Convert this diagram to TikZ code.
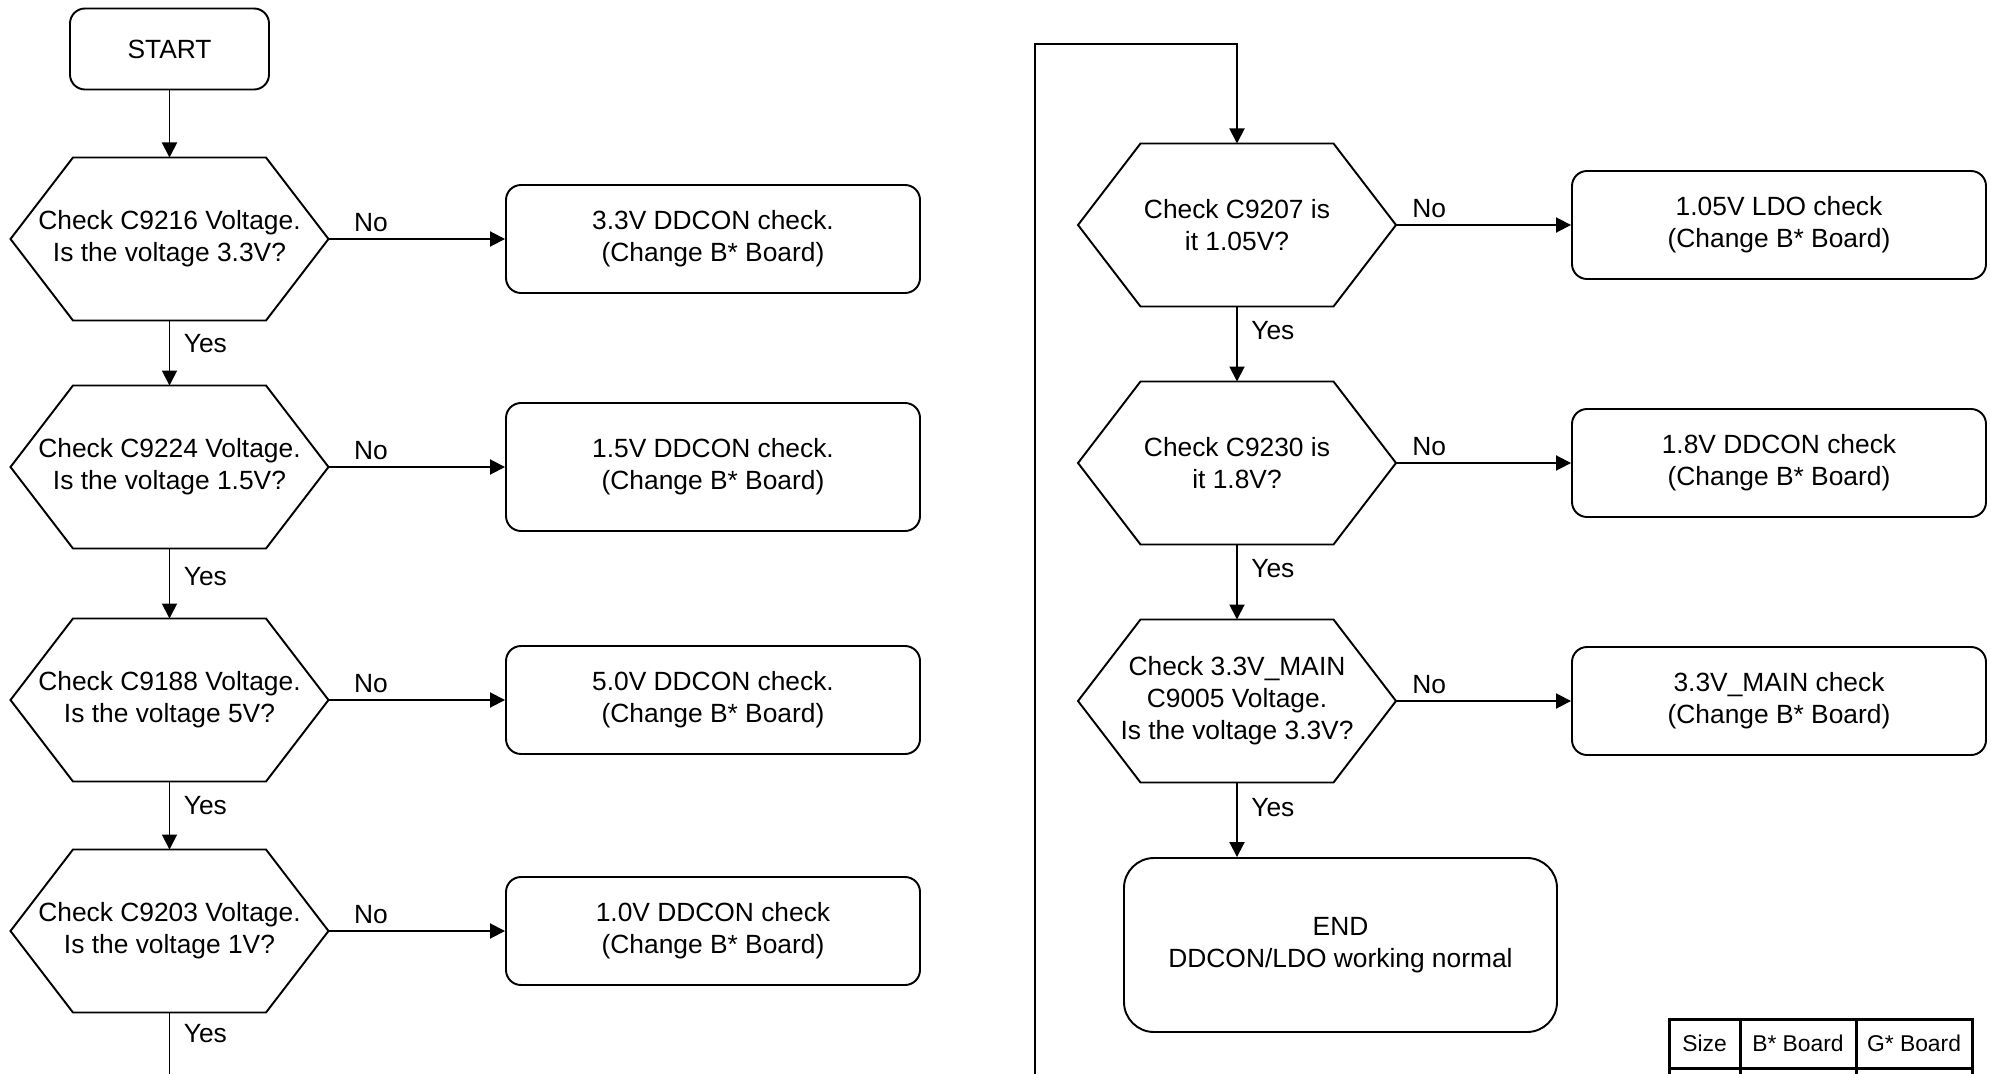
\documentclass[tikz,border=0pt]{standalone}
\usepackage{fontspec}
\setmainfont{Liberation Sans}
\usepackage{tikz}
\usetikzlibrary{arrows.meta}

\begin{document}
\begin{tikzpicture}[
  font=\fontsize{15}{18.2}\selectfont,
  line width=1.1pt,
  flow/.style={-{Triangle[length=0.3cm,width=0.3cm]}},
  termbox/.style={draw, rectangle, rounded corners=0.3cm, minimum width=3.98cm, minimum height=1.62cm},
  actbox/.style={draw, rectangle, rounded corners=0.3cm, minimum width=8.28cm, minimum height=2.16cm, align=center},
  hexnode/.style={rectangle, outer sep=0pt, minimum width=6.36cm, minimum height=3.26cm, align=center},
  nolbl/.style={above},
  yeslbl/.style={right, xshift=0.15cm},
  cell/.style={draw, rectangle, line width=1.7pt, minimum height=0.98cm, font=\fontsize{13}{15}\selectfont}
]
  \useasboundingbox (0,0) rectangle (39.82,-21.48);
  \clip (0,0) rectangle (39.82,-21.48);

  % Left column
  \node[termbox] (start) at (3.39,-0.98) {START};
  \node[hexnode] (h1) at (3.39,-4.78) {Check C9216 Voltage.\\Is the voltage 3.3V?};
  \node[hexnode] (h2) at (3.39,-9.34) {Check C9224 Voltage.\\Is the voltage 1.5V?};
  \node[hexnode] (h3) at (3.39,-14.00) {Check C9188 Voltage.\\Is the voltage 5V?};
  \node[hexnode] (h4) at (3.39,-18.62) {Check C9203 Voltage.\\Is the voltage 1V?};

  \node[actbox] (b1) at (14.26,-4.78) {3.3V DDCON check.\\(Change B* Board)};
  \node[actbox, minimum height=2.56cm] (b2) at (14.26,-9.34) {1.5V DDCON check.\\(Change B* Board)};
  \node[actbox] (b3) at (14.26,-14.00) {5.0V DDCON check.\\(Change B* Board)};
  \node[actbox] (b4) at (14.26,-18.62) {1.0V DDCON check\\(Change B* Board)};

  % Right column
  \node[hexnode] (h5) at (24.74,-4.50) {Check C9207 is\\it 1.05V?};
  \node[hexnode] (h6) at (24.74,-9.26) {Check C9230 is\\it 1.8V?};
  \node[hexnode] (h7) at (24.74,-14.02) {Check 3.3V\_MAIN\\C9005 Voltage.\\Is the voltage 3.3V?};

  \node[actbox] (b5) at (35.58,-4.50) {1.05V LDO check\\(Change B* Board)};
  \node[actbox] (b6) at (35.58,-9.26) {1.8V DDCON check\\(Change B* Board)};
  \node[actbox] (b7) at (35.58,-14.02) {3.3V\_MAIN check\\(Change B* Board)};

  \node[draw, rectangle, rounded corners=0.6cm, minimum width=8.66cm, minimum height=3.48cm, align=center] (endbox) at (26.81,-18.90) {END\\DDCON/LDO working normal};

  % Hexagon outlines
  \foreach \n in {h1,h2,h3,h4,h5,h6,h7}
    \draw (\n.west) -- ([xshift=1.25cm]\n.north west) -- ([xshift=-1.25cm]\n.north east)
      -- (\n.east) -- ([xshift=-1.25cm]\n.south east) -- ([xshift=1.25cm]\n.south west) -- cycle;

  % Yes branches
  \draw[flow] (start) -- (h1);
  \draw[flow] (h1) -- (h2) node[yeslbl, pos=0.36] {Yes};
  \draw[flow] (h2) -- (h3) node[yeslbl, pos=0.40] {Yes};
  \draw[flow] (h3) -- (h4) node[yeslbl, pos=0.36] {Yes};
  \draw[flow] (h5) -- (h6) node[yeslbl, pos=0.32] {Yes};
  \draw[flow] (h6) -- (h7) node[yeslbl, pos=0.32] {Yes};
  \draw[flow] (h7.south) -- (h7.south |- endbox.north) node[yeslbl, pos=0.34] {Yes};

  % No branches
  \draw[flow] (h1.east) -- (b1.west) node[nolbl, pos=0.24] {No};
  \draw[flow] (h2.east) -- (b2.west) node[nolbl, pos=0.24] {No};
  \draw[flow] (h3.east) -- (b3.west) node[nolbl, pos=0.24] {No};
  \draw[flow] (h4.east) -- (b4.west) node[nolbl, pos=0.24] {No};
  \draw[flow] (h5.east) -- (b5.west) node[nolbl, pos=0.19] {No};
  \draw[flow] (h6.east) -- (b6.west) node[nolbl, pos=0.19] {No};
  \draw[flow] (h7.east) -- (b7.west) node[nolbl, pos=0.19] {No};

  % Page link from left to right column
  \coordinate (lp1) at (3.39,-22.2);
  \coordinate (lp2) at (20.70,-22.2);
  \coordinate (lp3) at (20.70,-0.88);
  \coordinate (lp4) at (h5.north |- lp3);
  \draw[flow] (h4.south) -- node[yeslbl, pos=0.22] {Yes} (lp1) -- (lp2) -- (lp3) -- (lp4) -- (h5.north);

  % Size table
  \node[cell, minimum width=1.42cm] (tsize) at (34.09,-20.87) {Size};
  \node[cell, minimum width=2.32cm] (tbb) at (35.96,-20.87) {B* Board};
  \node[cell, minimum width=2.32cm] (tgb) at (38.28,-20.87) {G* Board};
  \node[cell, minimum width=1.42cm] (tsize2) at (34.09,-21.85) {};
  \node[cell, minimum width=2.32cm] (tbb2) at (35.96,-21.85) {};
  \node[cell, minimum width=2.32cm] (tgb2) at (38.28,-21.85) {};
\end{tikzpicture}
\end{document}
